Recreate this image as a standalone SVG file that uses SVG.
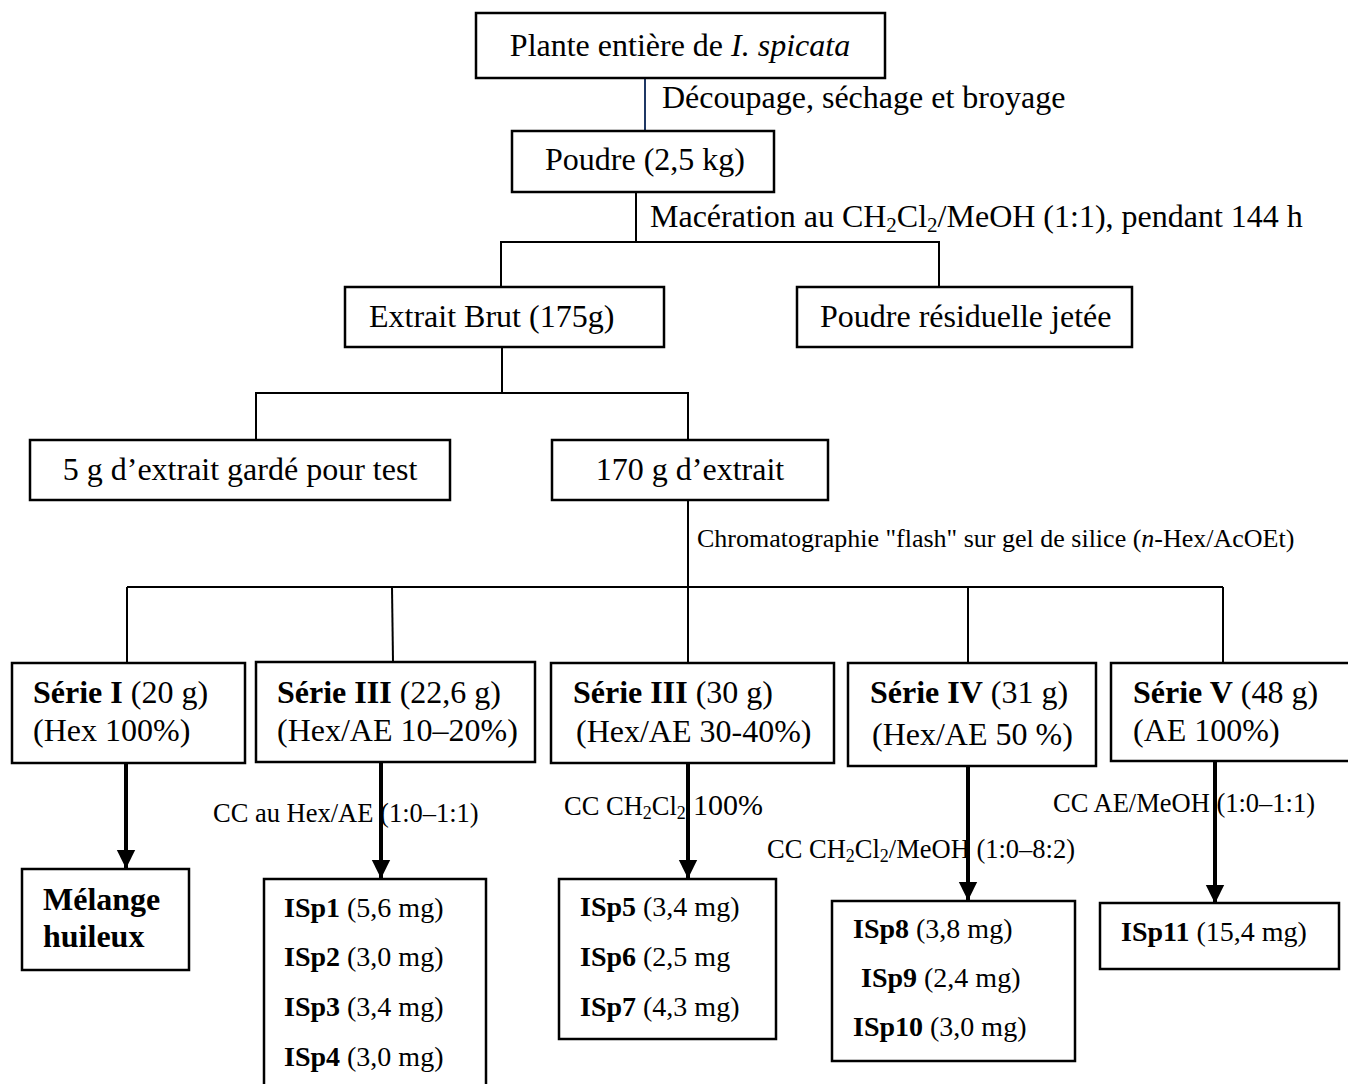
<svg xmlns="http://www.w3.org/2000/svg" width="1348" height="1084" viewBox="0 0 1348 1084">
  <style>
    text { font-family: "Liberation Serif", "Times New Roman", serif; fill: #000; }
    .t { font-size: 32px; }
    .s { font-size: 32px; }
    .iso { font-size: 28px; }
    .lbl { font-size: 26.5px; }
    .sm { font-size: 26px; }
    .b { font-weight: bold; }
    .box { fill: #fff; stroke: #000; stroke-width: 2.5; }
    .ln { fill: none; stroke: #000; stroke-width: 2; }
    .arr { fill: none; stroke: #000; stroke-width: 4; marker-end: url(#head); }
  </style>
  <defs>
    <marker id="head" markerWidth="5" markerHeight="5" refX="4.5" refY="2.5" orient="auto" markerUnits="strokeWidth">
      <path d="M0,0.2 L4.6,2.5 L0,4.8 Z" fill="#000"/>
    </marker>
  </defs>

  <!-- connectors -->
  <g id="connectors">
    <line x1="645" y1="78" x2="645" y2="131" stroke="#1f3864" stroke-width="2"/>
    <line class="ln" x1="636" y1="192" x2="636" y2="242"/>
    <polyline class="ln" points="501,288 501,242 939,242 939,288"/>
    <line class="ln" x1="502" y1="347" x2="502" y2="393"/>
    <polyline class="ln" points="256,440 256,393 688,393 688,440"/>
    <line class="ln" x1="688" y1="500" x2="688" y2="587"/>
    <line class="ln" x1="127" y1="587" x2="1223" y2="587"/>
    <line class="ln" x1="127" y1="587" x2="127" y2="663"/>
    <line class="ln" x1="392" y1="587" x2="393" y2="662"/>
    <line class="ln" x1="688" y1="587" x2="688" y2="663"/>
    <line class="ln" x1="968" y1="587" x2="968" y2="663"/>
    <line class="ln" x1="1223" y1="587" x2="1223" y2="663"/>
    <line class="arr" x1="126" y1="763" x2="126" y2="868"/>
    <line class="arr" x1="381" y1="762" x2="381" y2="878"/>
    <line class="arr" x1="688" y1="763" x2="688" y2="878"/>
    <line class="arr" x1="968" y1="762" x2="968" y2="900"/>
    <line class="arr" x1="1215" y1="761" x2="1215" y2="903"/>

    <!-- step labels -->
    <text class="t" x="662" y="108">Découpage, séchage et broyage</text>
    <text class="t" x="650" y="227">Macération au CH<tspan font-size="21" dy="5">2</tspan><tspan dy="-5">Cl</tspan><tspan font-size="21" dy="5">2</tspan><tspan dy="-5">/MeOH (1:1), pendant 144 h</tspan></text>
    <text class="sm" x="697" y="547">Chromatographie "flash" sur gel de silice (<tspan font-style="italic">n</tspan>-Hex/AcOEt)</text>
    <text class="lbl" x="213" y="822">CC au Hex/AE (1:0–1:1)</text>
    <text class="lbl" x="564" y="815">CC CH<tspan font-size="18" dy="4">2</tspan><tspan dy="-4">Cl</tspan><tspan font-size="18" dy="4">2</tspan><tspan dy="-4" font-size="30" x="693">100%</tspan></text>
    <text class="lbl" x="767" y="858">CC CH<tspan font-size="18" dy="4">2</tspan><tspan dy="-4">Cl</tspan><tspan font-size="18" dy="4">2</tspan><tspan dy="-4">/MeOH (1:0–8:2)</tspan></text>
    <text class="lbl" x="1053" y="812">CC AE/MeOH (1:0–1:1)</text>
  </g>

  <g id="plante">
    <rect class="box" x="476" y="13" width="409" height="65"/>
    <text class="t" x="680" y="56" text-anchor="middle">Plante entière de <tspan font-style="italic">I. spicata</tspan></text>
  </g>
  <g id="poudre">
    <rect class="box" x="512" y="131" width="262" height="61"/>
    <text class="t" x="645" y="170" text-anchor="middle">Poudre (2,5 kg)</text>
  </g>
  <g id="extrait-brut">
    <rect class="box" x="345" y="287" width="319" height="60"/>
    <text class="t" x="369" y="327">Extrait Brut (175g)</text>
  </g>
  <g id="poudre-residuelle">
    <rect class="box" x="797" y="287" width="335" height="60"/>
    <text class="t" x="820" y="327">Poudre résiduelle jetée</text>
  </g>
  <g id="extrait-test">
    <rect class="box" x="30" y="440" width="420" height="60"/>
    <text class="t" x="240" y="480" text-anchor="middle">5 g d’extrait gardé pour test</text>
  </g>
  <g id="extrait-170">
    <rect class="box" x="552" y="440" width="276" height="60"/>
    <text class="t" x="690" y="480" text-anchor="middle">170 g d’extrait</text>
  </g>

  <g id="serie-1">
    <rect class="box" x="12" y="663" width="233" height="100"/>
    <text class="s" x="33" y="703"><tspan class="b">Série I</tspan> (20 g)</text>
    <text class="s" x="33" y="741">(Hex 100%)</text>
  </g>
  <g id="serie-3a">
    <rect class="box" x="256" y="662" width="279" height="100"/>
    <text class="s" x="277" y="703"><tspan class="b">Série III</tspan> (22,6 g)</text>
    <text class="s" x="277" y="741">(Hex/AE 10–20%)</text>
  </g>
  <g id="serie-3b">
    <rect class="box" x="551" y="663" width="283" height="100"/>
    <text class="s" x="573" y="703"><tspan class="b">Série III</tspan> (30 g)</text>
    <text class="s" x="576" y="742">(Hex/AE 30-40%)</text>
  </g>
  <g id="serie-4">
    <rect class="box" x="848" y="663" width="248" height="103"/>
    <text class="s" x="870" y="703"><tspan class="b">Série IV</tspan> (31 g)</text>
    <text class="s" x="872" y="745">(Hex/AE 50 %)</text>
  </g>
  <g id="serie-5">
    <rect class="box" x="1111" y="663" width="260" height="98"/>
    <text class="s" x="1133" y="703"><tspan class="b">Série V</tspan> (48 g)</text>
    <text class="s" x="1133" y="741">(AE 100%)</text>
  </g>

  <g id="melange">
    <rect class="box" x="22" y="869" width="167" height="101"/>
    <text class="s b" x="43" y="910">Mélange</text>
    <text class="s b" x="43" y="947">huileux</text>
  </g>
  <g id="isp1-4">
    <rect class="box" x="264" y="879" width="222" height="220"/>
    <text class="iso" x="284" y="917"><tspan class="b">ISp1</tspan> (5,6 mg)</text>
    <text class="iso" x="284" y="966"><tspan class="b">ISp2</tspan> (3,0 mg)</text>
    <text class="iso" x="284" y="1016"><tspan class="b">ISp3</tspan> (3,4 mg)</text>
    <text class="iso" x="284" y="1066"><tspan class="b">ISp4</tspan> (3,0 mg)</text>
  </g>
  <g id="isp5-7">
    <rect class="box" x="559" y="879" width="217" height="160"/>
    <text class="iso" x="580" y="916"><tspan class="b">ISp5</tspan> (3,4 mg)</text>
    <text class="iso" x="580" y="966"><tspan class="b">ISp6</tspan> (2,5 mg</text>
    <text class="iso" x="580" y="1016"><tspan class="b">ISp7</tspan> (4,3 mg)</text>
  </g>
  <g id="isp8-10">
    <rect class="box" x="832" y="901" width="243" height="160"/>
    <text class="iso" x="853" y="938"><tspan class="b">ISp8</tspan> (3,8 mg)</text>
    <text class="iso" x="861" y="987"><tspan class="b">ISp9</tspan> (2,4 mg)</text>
    <text class="iso" x="853" y="1036"><tspan class="b">ISp10</tspan> (3,0 mg)</text>
  </g>
  <g id="isp11">
    <rect class="box" x="1100" y="903" width="239" height="66"/>
    <text class="iso" x="1121" y="941"><tspan class="b">ISp11</tspan> (15,4 mg)</text>
  </g>
</svg>
